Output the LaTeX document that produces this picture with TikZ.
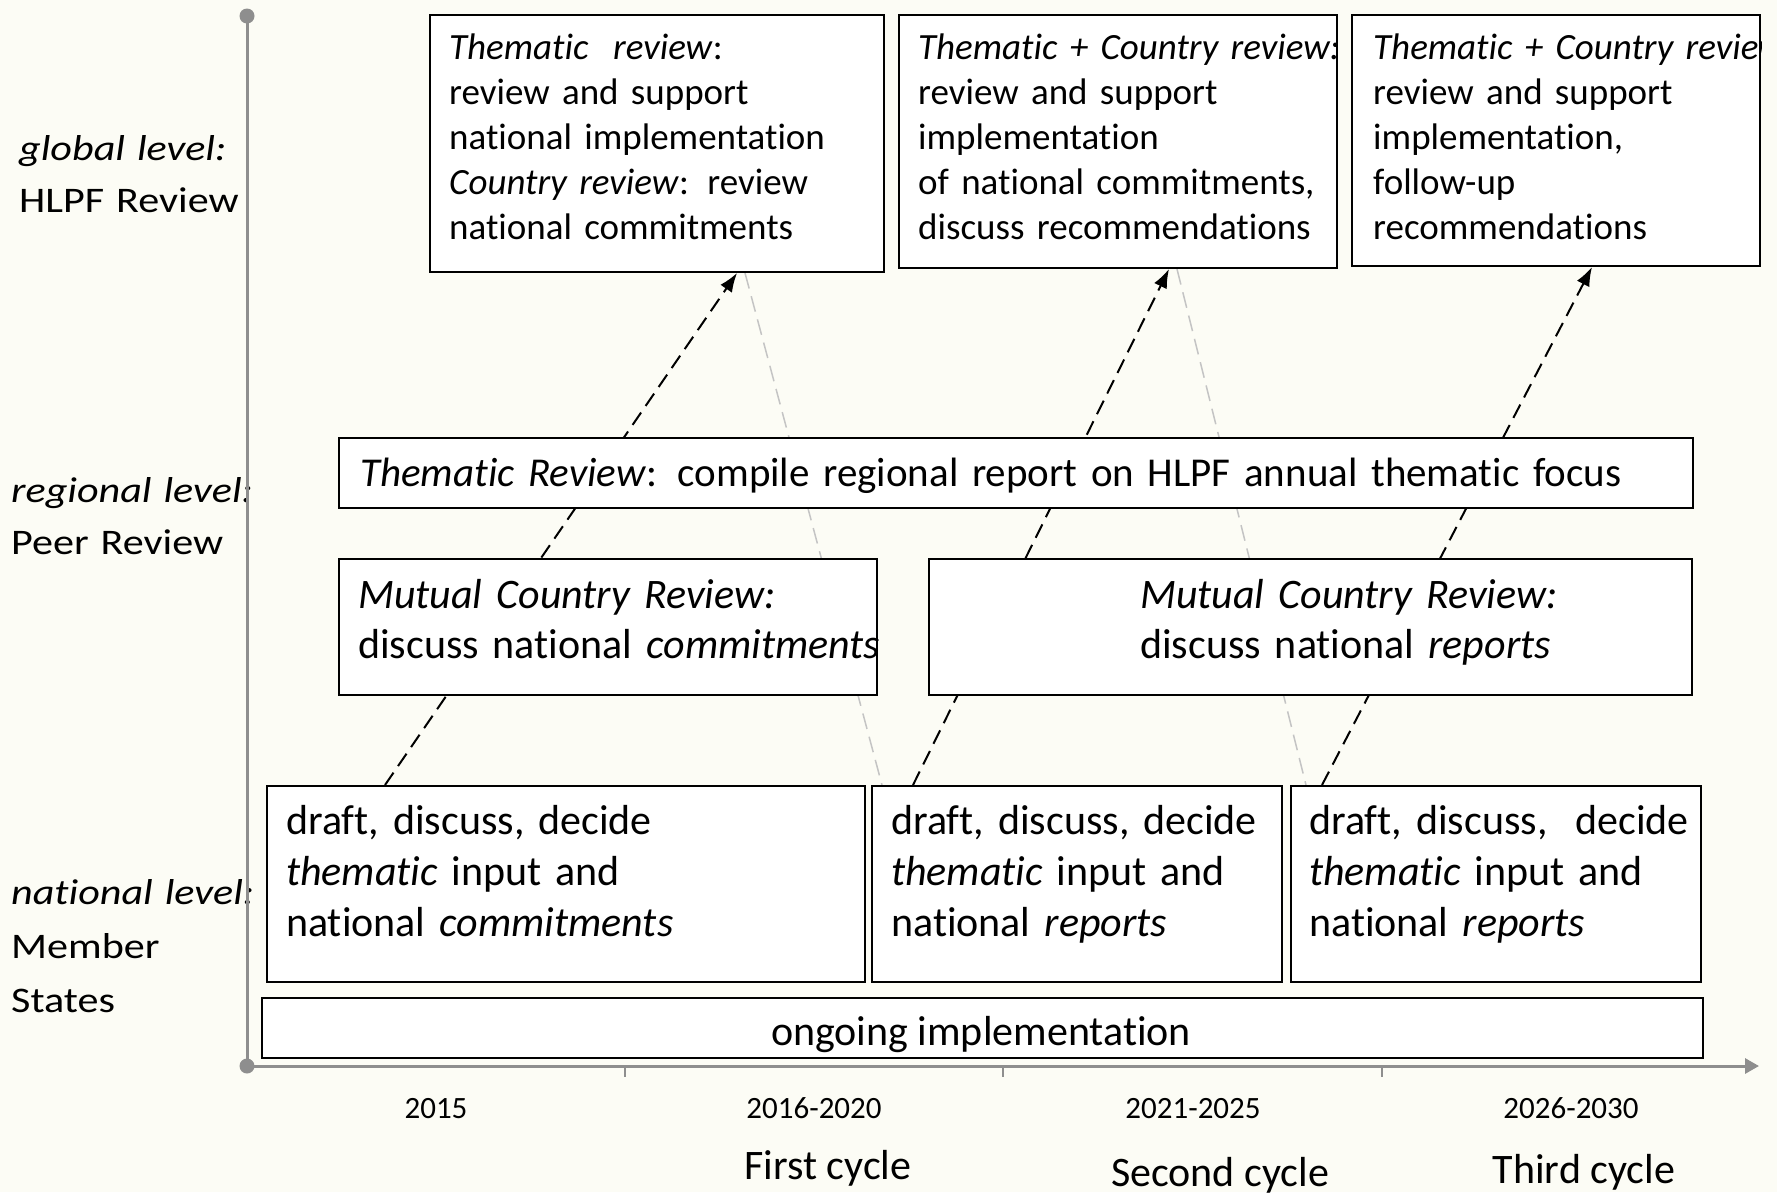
\documentclass[tikz,border=0pt]{standalone}
\usepackage{fontspec}
\setmainfont{Carlito}[Ligatures=NoCommon]
\newfontfamily\widefont[FakeStretch=1.17,Ligatures=NoCommon]{Carlito}
\usetikzlibrary{arrows.meta}
\definecolor{bgcream}{RGB}{252,252,245}
\definecolor{axisgray}{RGB}{142,142,142}
\definecolor{lightgray}{RGB}{196,196,196}
\pgfdeclarelayer{bg}
\pgfsetlayers{bg,main}
\begin{document}
\begin{tikzpicture}[x=1pt,y=-1pt,
  box/.style={draw=black, line width=2pt, fill=white, inner sep=0pt, anchor=north west},
  txt/.style={anchor=base west, inner sep=0pt, text width=1400pt, align=left},
  fglob/.style={font=\fontsize{37}{45}\selectfont},
  freg/.style={font=\fontsize{42}{50}\selectfont},
  fnat/.style={font=\fontsize{42}{51}\selectfont},
  flab/.style={font=\widefont\fontsize{36}{52}\selectfont},
  conn/.style={black, line width=2pt, dash pattern=on 15pt off 8pt, -{Latex[length=19pt,width=14pt]}},
  faint/.style={lightgray, line width=1.5pt, dash pattern=on 16pt off 8pt},
  axisline/.style={axisgray, line width=3pt},
  tick/.style={axisgray, line width=1.5pt}]
\useasboundingbox (0,0) rectangle (1777,1192);
\begin{pgfonlayer}{bg}
\fill[bgcream] (0,0) rectangle (1777,1192);
\end{pgfonlayer}

% left labels
\node[txt, flab] (lglob) at (19,160) {\textit{global level:}\\HLPF Review};
\node[txt, flab] (lreg) at (11,502) {\textit{regional level:}\\Peer Review};
\node[txt, flab, font=\widefont\fontsize{36}{54}\selectfont] (lnat) at (11,904) {\textit{national level:}\\Member\\States};

% axes
\coordinate (origin) at (247,1066);
\coordinate (ytop) at (247,16);
\coordinate (xend) at (1759,1066);
\draw[axisline] (origin) -- (ytop);
\draw[axisline, -{Triangle[length=14pt,width=15pt]}] (origin) -- (xend);
\fill[axisgray] (ytop) circle (7.5);
\fill[axisgray] (origin) circle (7.5);
\foreach \tx/\nm in {625/t1,1003/t2,1382/t3}{
  \coordinate (\nm a) at (\tx,1066);
  \coordinate (\nm b) at (\tx,1077);
  \draw[tick] (\nm a) -- (\nm b);
}

% global boxes
\node[box, minimum width=454pt, minimum height=257pt] (b1) at (429,14) {};
\node[box, minimum width=438pt, minimum height=253pt] (b2) at (898,14) {};
\node[box, minimum width=408pt, minimum height=251pt] (b3) at (1351,14) {};
\node[txt, fglob] (b1t) at (449,59) {\textit{Thematic\ \ review}:\\review and support\\national implementation\\\textit{Country review}: review\\national commitments};
\node[txt, fglob] (b2t) at (918,59) {\textit{Thematic + Country review:}\\review and support\\implementation\\of national commitments,\\discuss recommendations};
\begin{scope}
\clip (b3.north west) rectangle (b3.south east);
\node[txt, fglob] (b3t) at (1373,59) {\textit{Thematic + Country review:}\\review and support\\implementation,\\follow-up\\recommendations};
\end{scope}

% regional boxes
\node[box, minimum width=1354pt, minimum height=70pt] (rt) at (338,437) {};
\node[txt, font=\fontsize{41}{49}\selectfont] (rtt) at (360,486) {\textit{Thematic Review}: compile regional report on HLPF annual thematic focus};
\node[box, minimum width=538pt, minimum height=136pt] (m1) at (338,558) {};
\node[box, minimum width=763pt, minimum height=136pt] (m2) at (928,558) {};
\begin{scope}
\clip (m1.north west) rectangle (m1.south east);
\node[txt, freg] (m1t) at (358,608) {\textit{Mutual Country Review:}\\discuss national \textit{commitments}};
\end{scope}
\node[txt, freg] (m2t) at (1140,608) {\textit{Mutual Country Review:}\\discuss national \textit{reports}};

% national boxes
\node[box, minimum width=598pt, minimum height=196pt] (n1) at (266,785) {};
\node[box, minimum width=410pt, minimum height=196pt] (n2) at (871,785) {};
\node[box, minimum width=410pt, minimum height=196pt] (n3) at (1290,785) {};
\node[txt, fnat] (n1t) at (286,834) {draft, discuss, decide\\\textit{thematic} input and\\national \textit{commitments}};
\node[txt, fnat] (n2t) at (891,834) {draft, discuss, decide\\\textit{thematic} input and\\national \textit{reports}};
\node[txt, fnat] (n3t) at (1309,834) {draft, discuss,\ \ decide\\\textit{thematic} input and\\national \textit{reports}};

% ongoing implementation
\node[box, minimum width=1441pt, minimum height=60pt] (og) at (261,997) {};
\node[anchor=base, inner sep=0pt, fnat] (ogt) at (981,1045) {ongoing implementation};

% year labels
\foreach \yx/\yl/\nm in {436/2015/y1, 814/2016-2020/y2, 1193/2021-2025/y3, 1571/2026-2030/y4}{
  \node[anchor=base, inner sep=0pt, font=\fontsize{31}{37}\selectfont] (\nm) at (\yx,1118) {\yl};
}
\node[anchor=base, inner sep=0pt, font=\fontsize{42}{50}\selectfont] (c1) at (828,1179) {First cycle};
\node[anchor=base, inner sep=0pt, font=\fontsize{42}{50}\selectfont] (c2) at (1220,1186) {Second cycle};
\node[anchor=base, inner sep=0pt, font=\fontsize{42}{50}\selectfont] (c3) at (1584,1183) {Third cycle};

% connectors (behind boxes)
\coordinate (aS) at (385,0 |- n1.north);
\coordinate (aE) at (737,0 |- b1.south);
\coordinate (bS) at (913,0 |- n2.north);
\coordinate (bE) at (1169,0 |- b2.south);
\coordinate (cS) at (1322,0 |- n3.north);
\coordinate (cE) at (1592,0 |- b3.south);
\coordinate (gAs) at (745,0 |- b1.south);
\coordinate (gAe) at (882,0 |- n2.north);
\coordinate (gBs) at (1177,0 |- b2.south);
\coordinate (gBe) at (1306,0 |- n3.north);
\begin{pgfonlayer}{bg}
\draw[faint] (gAs) -- (gAe);
\draw[faint] (gBs) -- (gBe);
\draw[conn] (aS) -- (aE);
\draw[conn] (bS) -- (bE);
\draw[conn] (cS) -- (cE);
\end{pgfonlayer}
\end{tikzpicture}
\end{document}
